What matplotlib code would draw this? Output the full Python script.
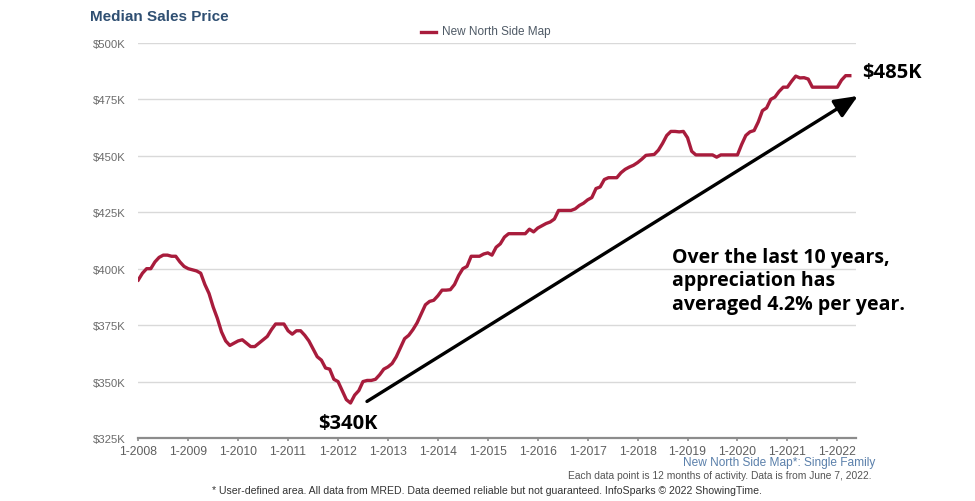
import numpy as np
import matplotlib
matplotlib.use("Agg")
import matplotlib.pyplot as plt

# monthly median sales price (thousands of $), Jan 2008 .. Apr 2022
START_YEAR = 2008
prices = [
    395, 398, 400, 400, 403, 405, 406, 406, 405.5, 405.5, 403, 401,
    400, 399.5, 399, 398, 393, 389, 383, 378, 372, 368, 366, 367,
    368, 368.5, 367, 365.5, 365.5, 367, 368.5, 370, 373, 375.5, 375.5, 375.5,
    372.5, 371, 372.5, 372.5, 370.5, 368, 364.5, 361, 359.5, 356, 355.5, 351,
    350, 346, 342, 340.5, 344, 346, 350, 350.5, 350.5, 351, 353, 355.5,
    356.5, 358, 361, 365, 369, 370.5, 373, 376, 380, 384, 385.5, 386,
    388, 390.5, 390.5, 390.7, 393, 397, 400, 401, 405.5, 405.5, 405.5, 406.5,
    407, 406, 409.5, 411, 414, 415.5, 415.5, 415.5, 415.5, 415.5, 417.5, 416.3,
    418, 419, 420, 420.7, 422, 425.8, 425.8, 425.8, 425.8, 426.5, 428, 429,
    430.5, 431.5, 435.5, 436.2, 439.5, 440.3, 440.3, 440.3, 442.5, 444, 445, 445.8,
    447, 448.5, 450.2, 450.4, 450.6, 452.5, 455.5, 459, 460.8, 460.8, 460.6, 460.8,
    458, 452, 450.4, 450.4, 450.4, 450.4, 450.4, 449.4, 450.4, 450.4, 450.4, 450.4,
    450.4, 455, 459, 460.6, 461.2, 465, 470, 471.2, 475, 476, 478.5, 480.4,
    480.4, 483, 485.3, 484.5, 484.6, 484, 480.4, 480.4, 480.4, 480.4, 480.4, 480.4,
    480.4, 483.5, 485.5, 485.5,
]
tick_years = list(range(2008, 2023))
y_ticks = [325, 350, 375, 400, 425, 450, 475, 500]

low_label = "$340K"
high_label = "$485K"
note = "Over the last 10 years,\nappreciation has\naveraged 4.2% per year."

RED = "#a81c3c"
GRID = "#d9d9d9"
GREY = "#5f5f5f"
AXIS = "#8c8c8c"

x = START_YEAR + np.arange(len(prices)) / 12.0

fig = plt.figure(figsize=(9.75, 5.02), dpi=100)
ax = fig.add_axes([138.3 / 975, 0.1255, 717.5 / 975, 0.787])

ax.plot(x, prices, color=RED, lw=2.4, solid_joinstyle="round", zorder=3)

ax.set_ylim(325, 500)
ax.set_xlim(2008, 2022.37)
ax.set_yticks(y_ticks)
ax.set_yticklabels([f"${v}K" for v in y_ticks])
ax.set_xticks(tick_years)
ax.set_xticklabels([f"1-{yr}" for yr in tick_years])

ax.grid(axis="y", color=GRID, lw=1)
ax.set_axisbelow(True)
for side in ["top", "right", "left"]:
    ax.spines[side].set_visible(False)
ax.spines["bottom"].set_color(AXIS)
ax.spines["bottom"].set_linewidth(1.6)
ax.tick_params(axis="y", length=0, pad=9, labelsize=8.2, labelcolor="#6b6b6b")
ax.tick_params(axis="x", length=2.5, width=1.2, color=AXIS, pad=2.3,
               labelsize=8.7, labelcolor=GREY)
for lab in ax.get_xticklabels() + ax.get_yticklabels():
    lab.set_family("Liberation Sans")

# arrow showing the 10 year trend
ax.annotate("", xy=(2022.41, 476.5), xytext=(2012.58, 341.2),
            arrowprops=dict(arrowstyle="-|>,head_length=1.4,head_width=0.6",
                            color="black", lw=2.4, shrinkA=0, shrinkB=0),
            annotation_clip=False, zorder=4)

ax.text(2012.19, 336.0, low_label, ha="center", va="top", fontsize=14.5,
        fontweight="bold", family="Open Sans", clip_on=False)
ax.text(2022.5, 487.2, high_label, ha="left", va="center", fontsize=14.5,
        fontweight="bold", family="Open Sans", clip_on=False)
ax.text(2018.69, 409.8, note, ha="left", va="top", fontsize=14,
        fontweight="bold", family="Open Sans", linespacing=1.25)

# header
fig.text(90 / 975, 1 - 17 / 502, "Median Sales Price", ha="left", va="center",
         fontsize=11, fontweight="bold", color="#2f4f72", family="Liberation Sans")
fig.lines.append(plt.Line2D([421 / 975, 436 / 975], [1 - 32.5 / 502, 1 - 32.5 / 502],
                            transform=fig.transFigure, color=RED, lw=2.4))
fig.text(441.5 / 975, 1 - 32.5 / 502, "New North Side Map", ha="left", va="center",
         fontsize=8.5, color="#4f5a66", family="Liberation Sans")

# footer
fig.text(875 / 975, 1 - 463 / 502, "New North Side Map*: Single Family",
         ha="right", va="center", fontsize=8.6, color="#5b80ab", family="Liberation Sans")
fig.text(872 / 975, 1 - 476.5 / 502,
         "Each data point is 12 months of activity. Data is from June 7, 2022.",
         ha="right", va="center", fontsize=7.4, color="#555555", family="Liberation Sans")
fig.text(487 / 975, 1 - 491.5 / 502,
         "* User-defined area. All data from MRED. Data deemed reliable but not "
         "guaranteed. InfoSparks \u00a9 2022 ShowingTime.",
         ha="center", va="center", fontsize=7.6, color="#333333", family="Liberation Sans")

fig.savefig("out.png", dpi=100, facecolor="white")
